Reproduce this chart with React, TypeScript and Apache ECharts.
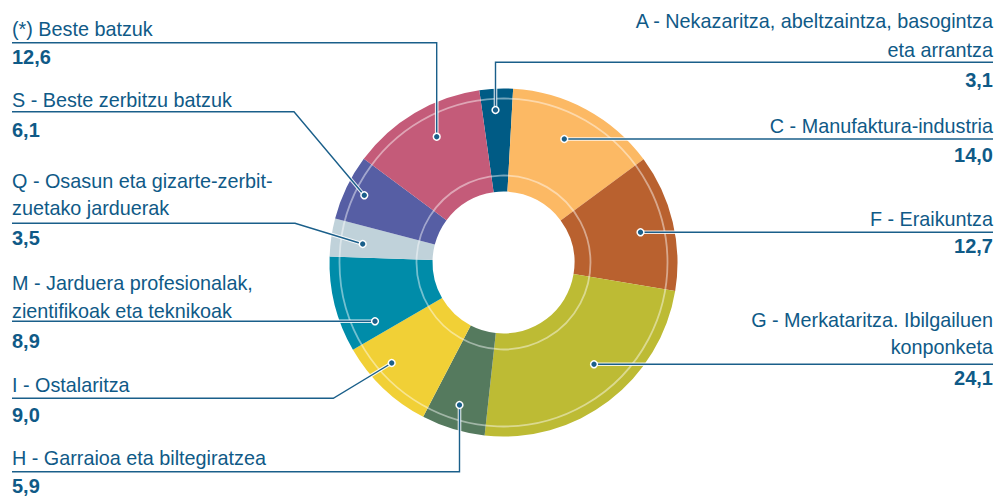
import React, { useEffect, useRef } from "react";
import * as echarts from "echarts";

// ---- data ----
const categories: string[] = [
  "A - Nekazaritza, abeltzaintza, basogintza\neta arrantza",
  "C - Manufaktura-industria",
  "F - Eraikuntza",
  "G - Merkataritza. Ibilgailuen\nkonponketa",
  "H - Garraioa eta biltegiratzea",
  "I - Ostalaritza",
  "M - Jarduera profesionalak,\nzientifikoak eta teknikoak",
  "Q - Osasun eta gizarte-zerbit-\nzuetako jarduerak",
  "S - Beste zerbitzu batzuk",
  "(*) Beste batzuk",
];
const values: number[] = [3.1, 14.0, 12.7, 24.1, 5.9, 9.0, 8.9, 3.5, 6.1, 12.6];
const colors: string[] = [
  "#005b85", "#fcb964", "#b9612f", "#bdbb34", "#557a5e",
  "#f1d036", "#008ca9", "#c0d2da", "#565ea4", "#c45b79",
];

// ---- layout (label placement, pixels) ----
type Side = "left" | "right";
const sides: Side[] = ["right", "right", "right", "right", "left", "left", "left", "left", "left", "left"];
const lineBaselines: number[][] = [
  [28.3, 57.3], [132.7], [226], [326.7, 354], [465], [391.7], [290, 318], [188, 215], [107], [35.7],
];
const valueBaselines: number[] = [87.3, 161.7, 253.3, 385, 493, 421.7, 347.7, 245, 136.7, 64.3];
const leaderPaths: number[][][] = [
  [[495.5, 110], [495.5, 62.3], [993, 62.3]],
  [[564.3, 139], [993, 139]],
  [[640.5, 232.3], [993, 232.3]],
  [[594, 364.3], [993, 364.3]],
  [[459.5, 405], [459.5, 471.7], [12, 471.7]],
  [[391.7, 363], [333.3, 398.3], [12, 398.3]],
  [[375, 321.3], [12, 321.3]],
  [[362.7, 244], [295, 223.3], [12, 223.3]],
  [[364.3, 195.3], [294, 111.7], [12, 111.7]],
  [[436.7, 136.7], [436.7, 42.7], [12, 42.7]],
];

const CX = 503.5;
const CY = 262.5;
const TEXT = "#0f5a87";
const LINE = "#1a5f8a";
const FONT = '"Liberation Sans", Arial, sans-serif';
const FS = 19.8;
const VFS = 20;

function fmt(v: number): string {
  return v.toFixed(1).replace(".", ",");
}

export default function App() {
  const ref = useRef<HTMLDivElement>(null);
  useEffect(() => {
    if (!ref.current) return;
    const chart = echarts.init(ref.current, undefined, { renderer: "svg" });

    const graphics: any[] = [];
    // thin translucent rings
    [87, 164].forEach((r) => {
      graphics.push({
        type: "circle",
        z: 50,
        shape: { cx: CX, cy: CY, r },
        style: { fill: "none", stroke: "rgba(255,255,255,0.45)", lineWidth: 1.8 },
        silent: true,
      });
    });

    categories.forEach((cat, i) => {
      const side = sides[i];
      const x = side === "left" ? 12 : 993;
      const align = side === "left" ? "left" : "right";
      const lines = cat.split("\n");
      lines.forEach((ln, j) => {
        graphics.push({
          type: "text",
          z: 60,
          x,
          y: lineBaselines[i][j] - 0.35 * FS,
          style: {
            text: ln,
            fill: TEXT,
            fontFamily: FONT,
            fontSize: FS,
            align,
            verticalAlign: "middle",
          },
        });
      });
      graphics.push({
        type: "text",
        z: 60,
        x,
        y: valueBaselines[i] - 0.35 * VFS,
        style: {
          text: fmt(values[i]),
          fill: TEXT,
          fontFamily: FONT,
          fontSize: VFS,
          fontWeight: "bold",
          align,
          verticalAlign: "middle",
        },
      });
      const pts = leaderPaths[i];
      graphics.push({
        type: "polyline",
        z: 70,
        shape: { points: pts },
        style: { fill: "none", stroke: "rgba(255,255,255,0.85)", lineWidth: 3.6 },
        silent: true,
      });
      graphics.push({
        type: "polyline",
        z: 71,
        shape: { points: pts },
        style: { fill: "none", stroke: LINE, lineWidth: 1.4 },
        silent: true,
      });
      graphics.push({
        type: "circle",
        z: 72,
        shape: { cx: pts[0][0], cy: pts[0][1], r: 3.4 },
        style: { fill: LINE, stroke: "#ffffff", lineWidth: 1.5 },
        silent: true,
      });
    });

    chart.setOption({
      animation: false,
      backgroundColor: "#ffffff",
      series: [
        {
          type: "pie",
          center: [CX, CY],
          radius: [71, 174],
          startAngle: 98,
          clockwise: true,
          label: { show: false },
          labelLine: { show: false },
          emphasis: { disabled: true },
          itemStyle: { borderWidth: 0 },
          data: values.map((v, i) => ({
            name: categories[i].replace("\n", " "),
            value: v,
            itemStyle: { color: colors[i] },
          })),
        },
      ],
      graphic: graphics,
    });
    return () => chart.dispose();
  }, []);
  return (
    <div
      ref={ref}
      style={{ position: "fixed", left: 0, top: 0, width: 998, height: 498 }}
    />
  );
}
